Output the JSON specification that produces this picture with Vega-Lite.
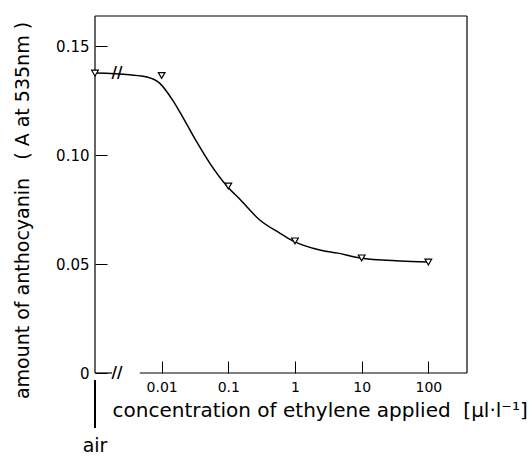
{
  "$schema": "https://vega.github.io/schema/vega-lite/v6.json",
  "width": 372,
  "height": 357,
  "autosize": {"type": "none"},
  "padding": {"left": 95, "top": 16, "right": 65, "bottom": 85},
  "background": "white",
  "config": {
    "view": {"stroke": null},
    "font": "DejaVu Sans",
    "axis": {
      "grid": false,
      "domain": false,
      "tickColor": "black",
      "tickSize": -12,
      "tickWidth": 1,
      "labelColor": "black",
      "labelFont": "DejaVu Sans",
      "labelFontSize": 15,
      "titleColor": "black",
      "titleFont": "DejaVu Sans",
      "titleFontSize": 19,
      "titleFontWeight": "normal"
    }
  },
  "datasets": {
    "points": [
      {"c": 0.001, "a": 0.1376},
      {"c": 0.01, "a": 0.1365},
      {"c": 0.1, "a": 0.0858},
      {"c": 1, "a": 0.0606},
      {"c": 10, "a": 0.0528},
      {"c": 100, "a": 0.0509}
    ],
    "curve": [
      {"c": 0.001, "a": 0.1376},
      {"c": 0.0033, "a": 0.1368},
      {"c": 0.006, "a": 0.1358},
      {"c": 0.0093, "a": 0.133},
      {"c": 0.0146, "a": 0.1252},
      {"c": 0.0207, "a": 0.1174},
      {"c": 0.0336, "a": 0.106},
      {"c": 0.0526, "a": 0.0963},
      {"c": 0.095, "a": 0.0858},
      {"c": 0.148, "a": 0.0798},
      {"c": 0.296, "a": 0.0702},
      {"c": 0.591, "a": 0.0642},
      {"c": 0.93, "a": 0.0606},
      {"c": 2.36, "a": 0.0564},
      {"c": 4.39, "a": 0.055},
      {"c": 9.4, "a": 0.0528},
      {"c": 37.5, "a": 0.0514},
      {"c": 98, "a": 0.0509}
    ],
    "frame": [
      {"c": 0.001, "c2": 0.0018, "a": 0, "a2": 0},
      {"c": 0.0047, "c2": 380, "a": 0, "a2": 0},
      {"c": 0.001, "c2": 380, "a": 0.1638, "a2": 0.1638},
      {"c": 380, "c2": 380, "a": 0, "a2": 0.1638},
      {"c": 0.001, "c2": 0.001, "a": 0, "a2": 0.1638}
    ],
    "breaks": [
      {"c": 0.00214, "a": 0, "t": "//"},
      {"c": 0.00214, "a": 0.1376, "t": "//"}
    ],
    "air": [
      {"c": 0.001, "a": -0.0032, "a2": -0.0252, "t": "air", "ta": -0.0362}
    ]
  },
  "encoding": {
    "x": {
      "field": "c",
      "type": "quantitative",
      "scale": {"type": "log", "domain": [0.001, 380], "nice": false},
      "axis": {
        "values": [0.01, 0.1, 1, 10, 100],
        "labelExpr": "'' + datum.value",
        "labelPadding": 19,
        "labelFontSize": 14,
        "labelBaseline": "top",
        "title": "concentration of ethylene applied\u00a0\u00a0[µl·l⁻¹]",
        "titleFontSize": 20,
        "titleX": 17,
        "titleY": 43,
        "titleAlign": "left",
        "titleBaseline": "alphabetic"
      }
    },
    "y": {
      "field": "a",
      "type": "quantitative",
      "scale": {"domain": [0, 0.1638], "nice": false, "zero": false},
      "axis": {
        "values": [0, 0.05, 0.1, 0.15],
        "labelExpr": "datum.value == 0 ? '0' : format(datum.value, '.2f')",
        "labelPadding": 18,
        "title": "amount of anthocyanin\u00a0\u00a0\u00a0( A at 535nm )",
        "titleAngle": -90,
        "titleX": -67,
        "titleY": 194,
        "titleAlign": "center",
        "titleBaseline": "alphabetic"
      }
    }
  },
  "layer": [
    {
      "data": {"name": "frame"},
      "mark": {"type": "rule", "color": "black", "strokeWidth": 1.2},
      "encoding": {
        "x2": {"field": "c2"},
        "y2": {"field": "a2"}
      }
    },
    {
      "data": {"name": "curve"},
      "mark": {"type": "line", "interpolate": "monotone", "color": "black", "strokeWidth": 1.5}
    },
    {
      "data": {"name": "points"},
      "mark": {"type": "point", "shape": "triangle-down", "filled": true, "fill": "white", "stroke": "black", "strokeWidth": 1.2, "size": 45, "opacity": 1}
    },
    {
      "data": {"name": "breaks"},
      "mark": {"type": "text", "fontSize": 15, "font": "DejaVu Sans", "color": "black", "align": "center", "baseline": "middle", "fontWeight": "bold"},
      "encoding": {"text": {"field": "t"}}
    },
    {
      "data": {"name": "air"},
      "mark": {"type": "rule", "color": "black", "strokeWidth": 2},
      "encoding": {"y2": {"field": "a2"}}
    },
    {
      "data": {"name": "air"},
      "mark": {"type": "text", "fontSize": 19, "font": "DejaVu Sans", "color": "black", "align": "center", "baseline": "alphabetic"},
      "encoding": {"y": {"field": "ta", "type": "quantitative"}, "text": {"field": "t"}}
    }
  ]
}
